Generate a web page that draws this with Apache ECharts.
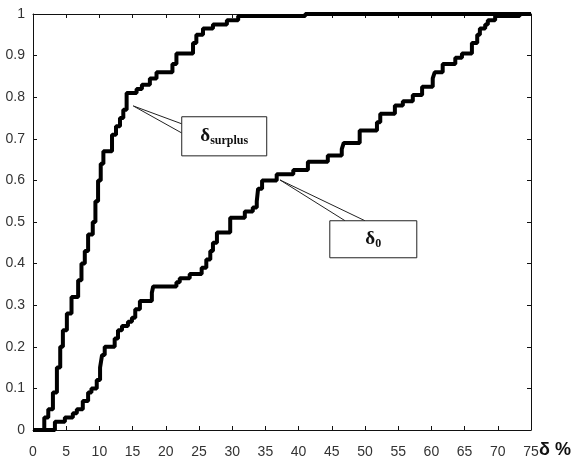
<!DOCTYPE html>
<html><head><meta charset="utf-8">
<script src="https://cdn.jsdelivr.net/npm/echarts@6/dist/echarts.min.js"></script>
<style>html,body{margin:0;padding:0;background:#fff}#c{width:581px;height:459px}</style>
</head><body><div id="c"></div>
<script>
// δ_surplus cumulative distribution: [δ %, fraction] at each jump
const surplusData = [[0,0],[1.7,0.03],[2.3,0.05],[3,0.09],[3.6,0.15],[4.1,0.2],[4.5,0.24],[5.1,0.28],[5.8,0.32],[6.8,0.36],[7.3,0.40],[7.8,0.43],[8.3,0.47],[9,0.5],[9.4,0.55],[9.8,0.6],[10.2,0.64],[10.6,0.67],[11.9,0.71],[12.5,0.73],[13.1,0.75],[13.6,0.77],[14.1,0.81],[15.6,0.82],[16.4,0.83],[17.6,0.845],[18.6,0.86],[21,0.88],[21.6,0.905],[24.1,0.93],[24.6,0.95],[25.6,0.965],[27.1,0.975],[29.2,0.985],[30.9,0.995],[41,1.0],[75,1.0]];
// δ_0 cumulative distribution
const delta0Data = [[0,0],[3.3,0.02],[4.8,0.03],[6.0,0.04],[6.6,0.05],[7.5,0.07],[8.3,0.09],[8.8,0.10],[9.6,0.12],[10.1,0.15],[10.4,0.18],[10.8,0.20],[12.3,0.22],[12.8,0.24],[13.4,0.25],[14.3,0.26],[14.9,0.27],[15.4,0.29],[16.1,0.31],[17.9,0.33],[18.1,0.345],[21.6,0.355],[22.1,0.365],[23.6,0.375],[25.4,0.39],[26.1,0.41],[26.7,0.43],[27.1,0.45],[27.7,0.475],[29.7,0.51],[31.9,0.525],[33.1,0.535],[33.7,0.55],[33.9,0.58],[34.5,0.60],[36.7,0.615],[39.2,0.625],[41.4,0.645],[44.4,0.66],[46.5,0.675],[46.8,0.69],[49.2,0.72],[51.8,0.74],[52.3,0.76],[54.5,0.78],[55.7,0.79],[57.2,0.805],[58.6,0.825],[60.2,0.845],[60.5,0.86],[61.7,0.88],[63.6,0.895],[64.6,0.905],[66.1,0.93],[66.9,0.95],[67.3,0.965],[68.1,0.975],[68.5,0.985],[69.6,0.995],[73.3,1.0],[75,1.0]];
const xTicks = [0,5,10,15,20,25,30,35,40,45,50,55,60,65,70,75];
const yTicks = [0,0.1,0.2,0.3,0.4,0.5,0.6,0.7,0.8,0.9,1];

// callout annotations in data coordinates
const calloutSurplus = {tip:[15.1,0.779], a:[22.4,0.736], b:[22.4,0.714], box:[22.4,0.753,35.2,0.659]};
const callout0 = {tip:[37.2,0.601], a:[47.0,0.503], b:[50.0,0.503], box:[44.7,0.503,57.8,0.414]};

const chart = echarts.init(document.getElementById('c'), null, {renderer:'canvas'});
const labelStyle = {color:'#333', fontFamily:'Liberation Sans, Arial, sans-serif', fontSize:14};
const axisBase = {type:'value', splitLine:{show:false},
  axisLine:{show:true, onZero:false, lineStyle:{color:'#111', width:1}},
  axisTick:{show:true, inside:true, length:4, lineStyle:{color:'#111'}}};
chart.setOption({
  animation:false,
  backgroundColor:'#fff',
  grid:{left:33, right:50, top:14, bottom:29, containLabel:false},
  xAxis:[
    Object.assign({}, axisBase, {min:0, max:75, interval:5, position:'bottom',
      axisLabel:Object.assign({}, labelStyle, {margin:15, formatter:v=>xTicks.includes(v)?String(v):''})}),
    Object.assign({}, axisBase, {min:0, max:75, interval:5, position:'top', axisLabel:{show:false}})
  ],
  yAxis:[
    Object.assign({}, axisBase, {min:0, max:1, interval:0.1, position:'left',
      axisLabel:Object.assign({}, labelStyle, {margin:8, formatter:v=>{const t=yTicks.find(k=>Math.abs(k-v)<1e-6);return t===undefined?'':String(t);}})}),
    Object.assign({}, axisBase, {min:0, max:1, interval:0.1, position:'right', axisLabel:{show:false}})
  ],
  series:[
    {type:'line', step:'end', data:surplusData, showSymbol:false, lineStyle:{color:'#000', width:4}},
    {type:'line', step:'end', data:delta0Data, showSymbol:false, lineStyle:{color:'#000', width:4}}
  ]
});

function px(p){return chart.convertToPixel({xAxisIndex:0,yAxisIndex:0}, p);}
function callout(c, main, sub){
  const t=px(c.tip), a=px(c.a), b=px(c.b);
  const p1=px([c.box[0],c.box[1]]), p2=px([c.box[2],c.box[3]]);
  return [
    {type:'polyline', shape:{points:[a,t,b]}, style:{stroke:'#222', lineWidth:1, fill:null}, z:10},
    {type:'rect', shape:{x:p1[0], y:p1[1], width:p2[0]-p1[0], height:p2[1]-p1[1]}, style:{fill:'#fff', stroke:'#222', lineWidth:1}, z:11},
    {type:'text', x:(p1[0]+p2[0])/2, y:(p1[1]+p2[1])/2, z:12,
      style:{text:'{m|'+main+'}{s|'+sub+'}', align:'center', verticalAlign:'middle',
        rich:{m:{fontFamily:'Liberation Serif, serif', fontWeight:'bold', fontSize:19, fill:'#111'},
              s:{fontFamily:'Liberation Serif, serif', fontWeight:'bold', fontSize:12, fill:'#111', padding:[9,0,0,0]}}}}
  ];
}
const gp = px([75,0]);
chart.setOption({graphic:[].concat(
  callout(calloutSurplus,'δ','surplus'),
  callout(callout0,'δ','0'),
  [{type:'text', x:gp[0]+8, y:gp[1]+20, style:{text:'δ %', fontFamily:'Liberation Sans, Arial, sans-serif', fontSize:18, fontWeight:'bold', fill:'#111', verticalAlign:'middle'}}]
)});
</script>
</body></html>
